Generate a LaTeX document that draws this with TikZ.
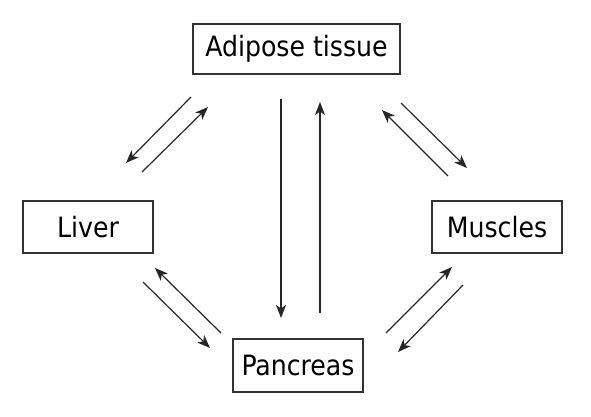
\documentclass[tikz,border=0pt]{standalone}
\usepackage{fontspec}
\setmainfont{DejaVu Sans Condensed}
\usetikzlibrary{arrows.meta}
\begin{document}
\begin{tikzpicture}[x=1pt,y=-1pt,
  organ/.style={draw=black!80,line width=1.4pt,rectangle,inner sep=0pt,
    font=\fontsize{28}{30}\selectfont,text=black},
  flow/.style={draw=black!85,line width=1.2pt,-{Stealth[length=13pt,width=10pt,inset=3.5pt]}}]
\useasboundingbox (0,0) rectangle (591,417);
\node[organ,minimum width=207pt,minimum height=50pt] (adi) at (296.5,49) {Adipose tissue};
\node[organ,minimum width=130pt,minimum height=52pt] (liv) at (88,227) {Liver};
\node[organ,minimum width=130pt,minimum height=52pt] (mus) at (497,227) {Muscles};
\node[organ,minimum width=130pt,minimum height=53pt] (pan) at (298,365.5) {Pancreas};
% adipose - liver
\coordinate (al1) at (191,97);  \coordinate (al2) at (126,163);
\coordinate (la1) at (142,172); \coordinate (la2) at (208,107);
% adipose - muscles
\coordinate (am1) at (401,103); \coordinate (am2) at (467,168);
\coordinate (ma1) at (448,176); \coordinate (ma2) at (382,110);
% liver - pancreas
\coordinate (pl1) at (221,333); \coordinate (pl2) at (155,268);
\coordinate (lp1) at (143,282); \coordinate (lp2) at (210,348);
% muscles - pancreas
\coordinate (pm1) at (386,333); \coordinate (pm2) at (452,267);
\coordinate (mp1) at (463,285); \coordinate (mp2) at (398,352);
% adipose - pancreas
\coordinate (ap1) at (281,99);  \coordinate (ap2) at (281,318);
\coordinate (pa1) at (320,313); \coordinate (pa2) at (320,102);
\foreach \a/\b in {al1/al2,la1/la2,am1/am2,ma1/ma2,pl1/pl2,lp1/lp2,pm1/pm2,mp1/mp2,ap1/ap2,pa1/pa2}
  \draw[flow] (\a) -- (\b);
\end{tikzpicture}
\end{document}
